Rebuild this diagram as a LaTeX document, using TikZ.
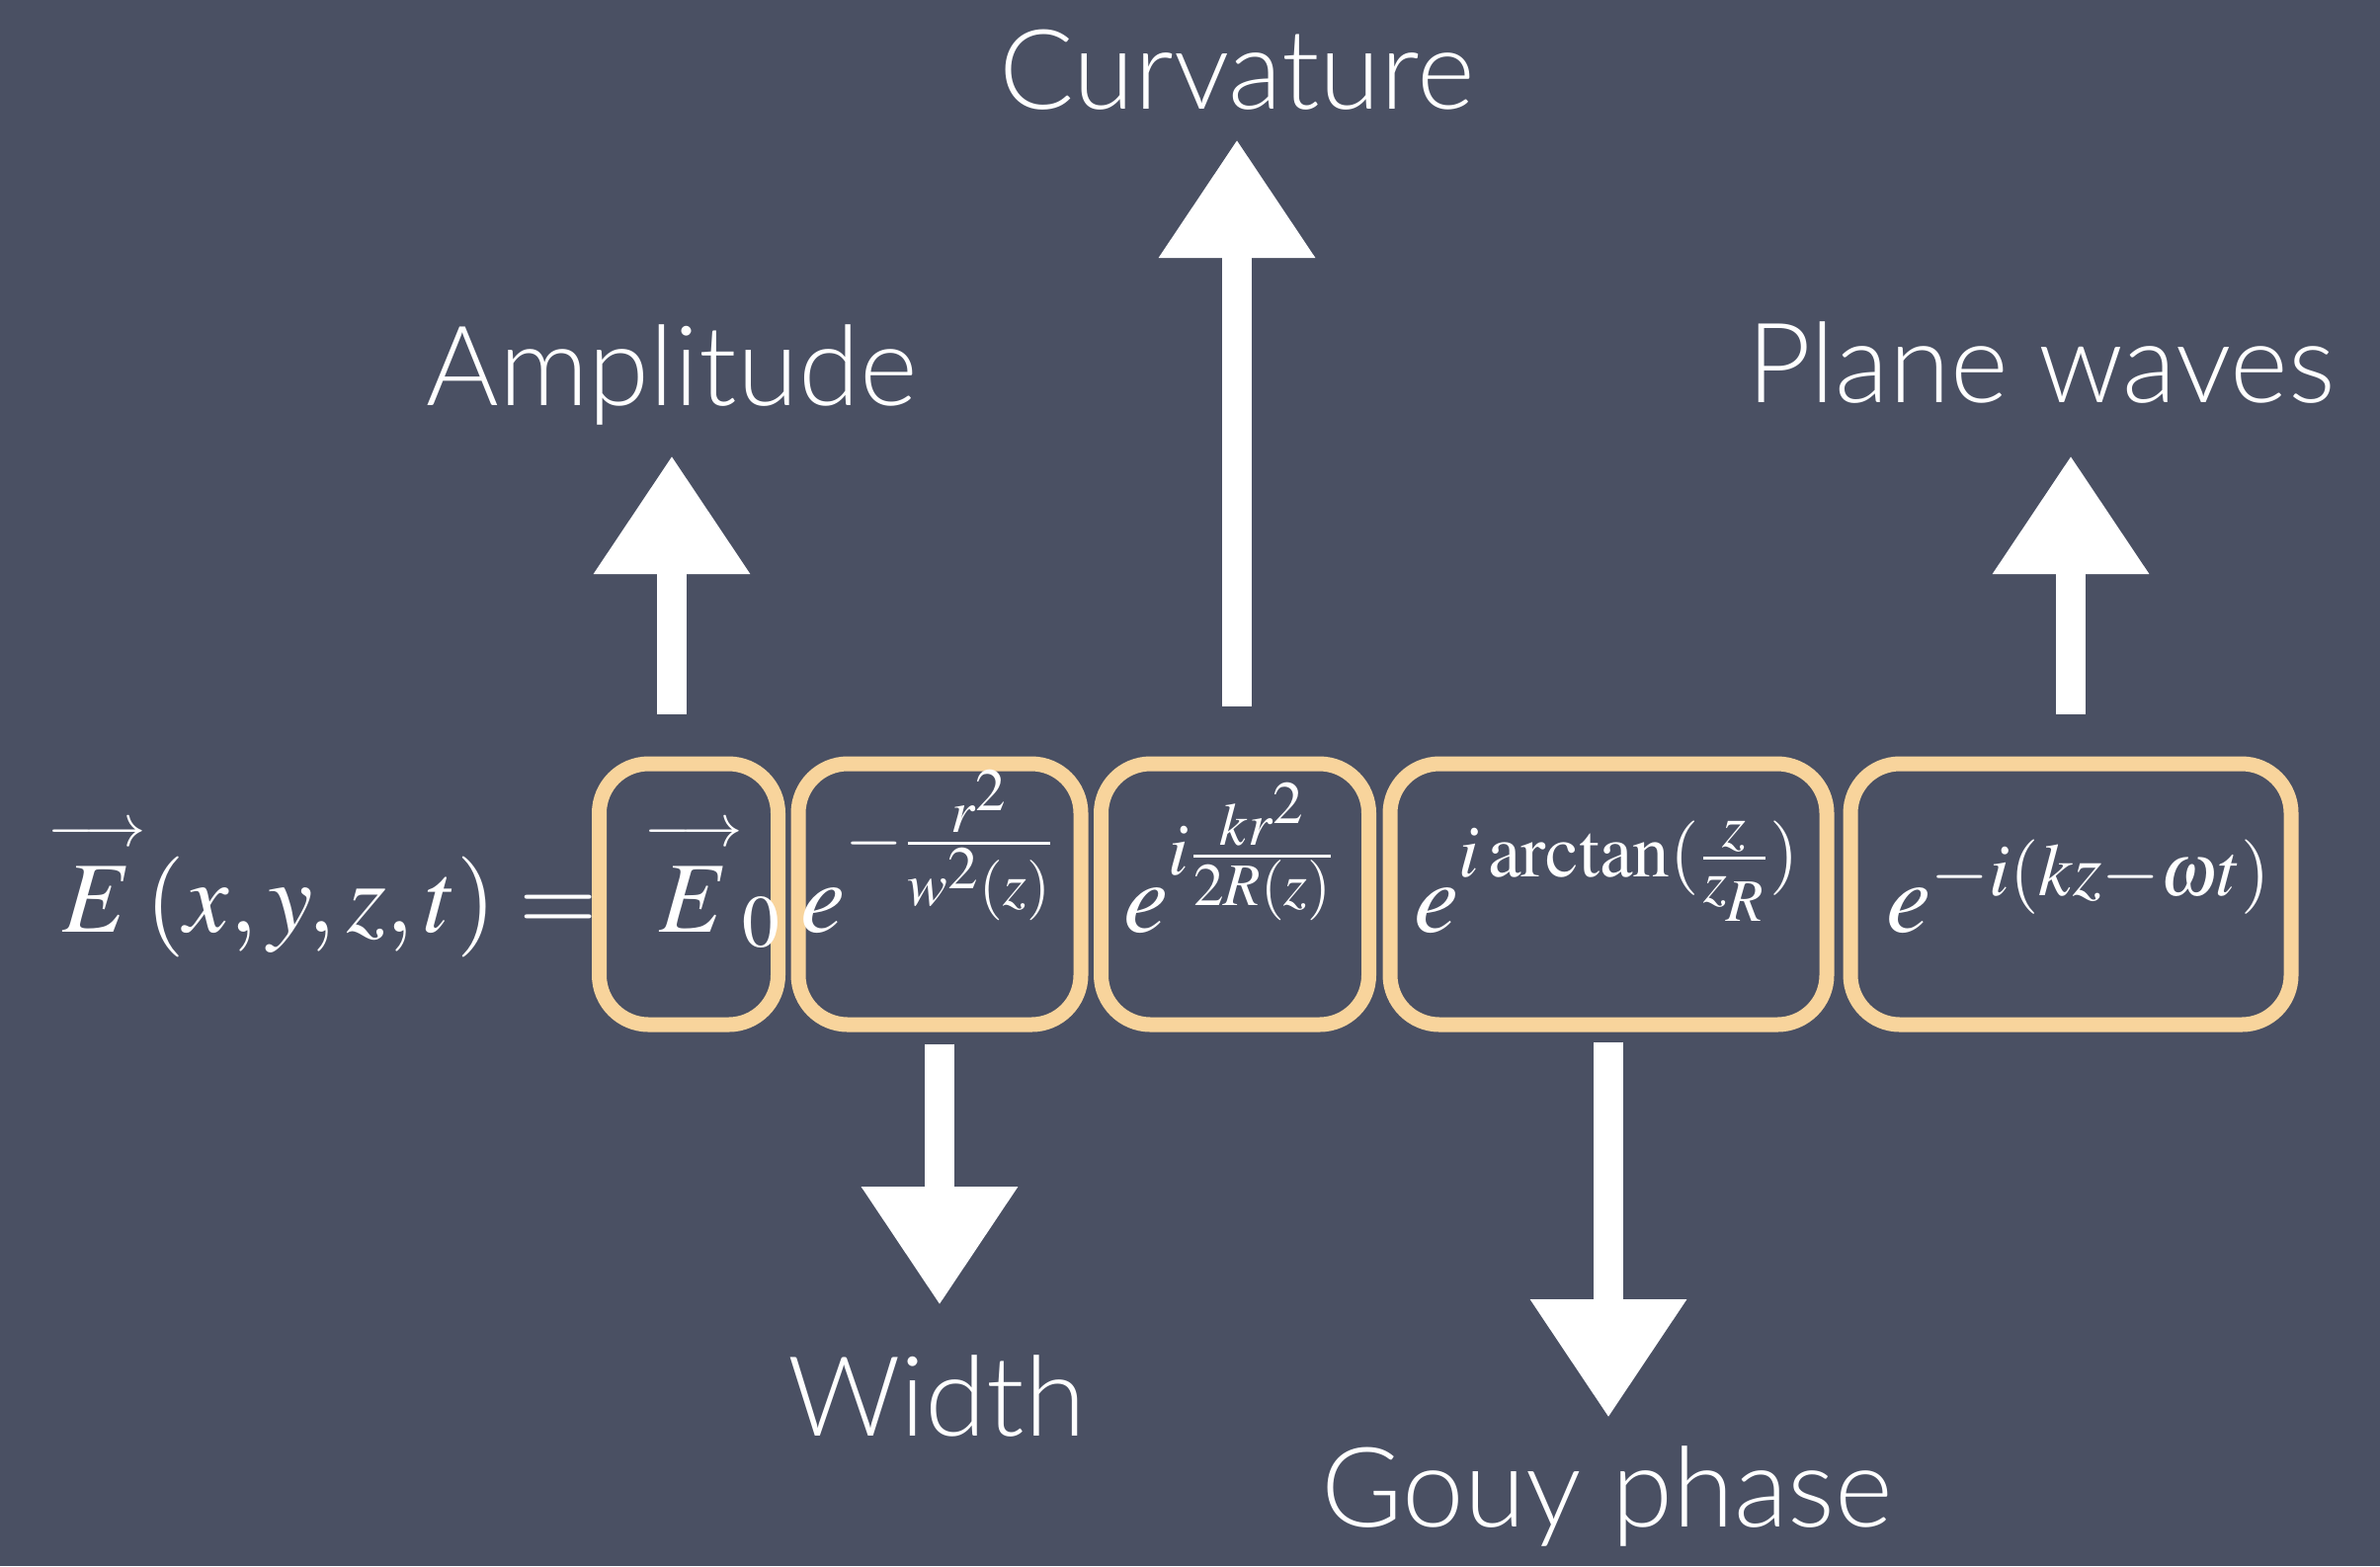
\documentclass[tikz,border=0pt]{standalone}
\usepackage{amsmath}
\usepackage{mathptmx}
\usepackage[no-math]{fontspec}
\setsansfont{Lato Light}
\usepackage{tikz}
\usetikzlibrary{arrows.meta,positioning}
\definecolor{board}{HTML}{4A5063}
\definecolor{chalkorange}{HTML}{F8D49C}
\newcommand{\fieldvec}[1]{\overset{\scriptscriptstyle\longrightarrow}{#1}}

\begin{document}
\begin{tikzpicture}[
  x=0.1mm, y=-0.1mm,
  term/.style={draw=chalkorange,line width=1.5mm,rounded corners=5mm,
               minimum height=26.4mm,inner sep=0pt},
  chalk/.style={draw=white,line width=3mm,
                -{Triangle[length=12mm,width=15mm]}},
  lbl/.style={text=white,font=\sffamily\fontsize{32}{36}\selectfont,
              inner sep=0pt,anchor=base},
  eq/.style={text=white,font=\fontsize{29}{35}\selectfont,
             inner sep=0pt,anchor=base west}
]
\fill[board] (0,0) rectangle (2409,1585);

% boxes round each factor
\node[term,minimum width=18.1mm] (b1) at (697,905) {};
\node[term,minimum width=28.6mm] (b2) at (951,905) {};
\node[term,minimum width=27.1mm] (b3) at (1250,905) {};
\node[term,minimum width=44.2mm] (b4) at (1628,905) {};
\node[term,minimum width=44.6mm] (b5) at (2096,905) {};

% the field
\node[eq] (lhs) at (48,943) {$\fieldvec{E}(x,y,z,t)=$};
\node[eq] (e0) at (652,943) {$\fieldvec{E}_0$};
\node[eq] (t2) at (810,943) {$e^{-\frac{r^2}{w^2(z)}}$};
\node[eq] (t3) at (1137,943) {$e^{i\frac{kr^2}{2R(z)}}$};
\node[eq] (t4) at (1431,943) {$e^{i\arctan(\frac{z}{z_R})}$};
\node[eq] (t5) at (1909,943) {$e^{-i(kz-\omega t)}$};

% labels
\node[lbl] (curv) at (1252,110) {Curvature};
\node[lbl] (amp) at (680,410) {Amplitude};
\node[lbl] (plane) at (2066,407) {Plane waves};
\node[lbl] (wid) at (948,1453) {Width};
\node[lbl] (gouy) at (1627,1545) {Gouy phase};

\draw[chalk] ([yshift=4.3mm]b1.north -| amp.base) -- ([yshift=-5.1mm]amp.base);
\draw[chalk] ([yshift=5.1mm]b3.north -| curv.base) -- ([yshift=-3.1mm]curv.base);
\draw[chalk] ([yshift=4.3mm]b5.north) -- ([yshift=-5.4mm]b5.north |- plane.base);
\draw[chalk] ([yshift=-1.2mm]b2.south) -- ([yshift=13.2mm]b2.south |- wid.base);
\draw[chalk] ([yshift=-1mm]b4.south) -- ([yshift=11mm]b4.south |- gouy.base);
\end{tikzpicture}
\end{document}
